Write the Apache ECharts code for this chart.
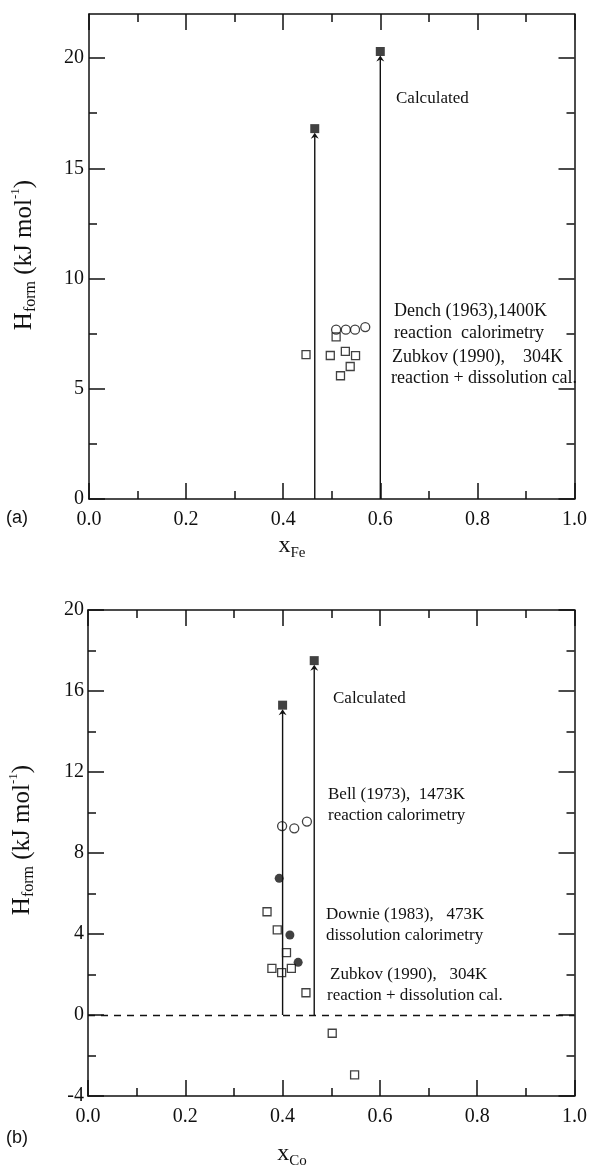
<!DOCTYPE html>
<html>
<head>
<meta charset="utf-8">
<script src="https://cdn.jsdelivr.net/npm/echarts@6/dist/echarts.min.js"></script>
<style>
  html, body { margin: 0; padding: 0; background: #fff; }
  #chart { width: 590px; height: 1168px; }
</style>
</head>
<body>
<div id="chart"></div>
<script>
// (a) x_Fe
const calcFeX = [0.465, 0.6];
const calcFeH = [16.8, 20.3];
const denchX = [0.509, 0.529, 0.548, 0.569];
const denchH = [7.68, 7.68, 7.68, 7.8];
const zubkovFeX = [0.447, 0.497, 0.509, 0.528, 0.549, 0.538, 0.518];
const zubkovFeH = [6.55, 6.51, 7.35, 6.7, 6.5, 6.01, 5.59];

// (b) x_Co
const calcCoX = [0.4, 0.465];
const calcCoH = [15.3, 17.5];
const bellX = [0.399, 0.424, 0.45];
const bellH = [9.33, 9.22, 9.55];
const downieX = [0.393, 0.415, 0.432];
const downieH = [6.75, 3.95, 2.6];
const zubkovCoX = [0.368, 0.389, 0.408, 0.378, 0.398, 0.418, 0.448, 0.502, 0.548];
const zubkovCoH = [5.1, 4.2, 3.08, 2.3, 2.09, 2.3, 1.1, -0.9, -2.96];

// ticks
const yTicksA = [0, 5, 10, 15, 20];
const yMinorA = [2.5, 7.5, 12.5, 17.5];

const serif = "Liberation Serif";
const ink = "#111";
const pairs = (xs, ys) => xs.map((x, i) => [x, ys[i]]);

var myChart = echarts.init(document.getElementById("chart"));

var lineStyle = { color: ink, width: 1.5 };

function xAxis(gridIndex, position, showLabel) {
  return {
    type: "value",
    gridIndex: gridIndex,
    position: position,
    min: 0,
    max: 1,
    interval: 0.2,
    axisLine: { show: true, onZero: false, lineStyle: lineStyle },
    axisTick: { show: true, inside: true, length: 16, lineStyle: lineStyle },
    minorTick: { show: true, splitNumber: 2, length: 8, lineStyle: lineStyle },
    splitLine: { show: false },
    axisLabel: {
      show: showLabel,
      margin: 11,
      formatter: (v) => v.toFixed(1),
      fontFamily: serif,
      fontSize: 20,
      color: ink,
    },
  };
}

// top plot y axes use custom tick lists (the frame stops at 22)
function yAxisA(position, ticks, len, showLine, showLabel) {
  return {
    type: "value",
    gridIndex: 0,
    position: position,
    min: 0,
    max: 22,
    axisLine: { show: showLine, onZero: false, lineStyle: lineStyle },
    axisTick: { show: true, inside: true, length: len, customValues: ticks, lineStyle: lineStyle },
    splitLine: { show: false },
    axisLabel: {
      show: showLabel,
      customValues: ticks,
      margin: 5,
      fontFamily: serif,
      fontSize: 20,
      color: ink,
    },
  };
}

function yAxisB(position, showLabel) {
  return {
    type: "value",
    gridIndex: 1,
    position: position,
    min: -4,
    max: 20,
    interval: 4,
    axisLine: { show: true, onZero: false, lineStyle: lineStyle },
    axisTick: { show: true, inside: true, length: 16, lineStyle: lineStyle },
    minorTick: { show: true, splitNumber: 2, length: 8, lineStyle: lineStyle },
    splitLine: { show: false },
    axisLabel: {
      show: showLabel,
      margin: 4,
      fontFamily: serif,
      fontSize: 20,
      color: ink,
    },
  };
}

// vertical arrow from 0 up to the calculated value, head just under the square
function renderArrow(params, api) {
  var x = api.value(0);
  var h = api.value(1);
  var p0 = api.coord([x, 0]);
  var p1 = api.coord([x, h]);
  var tip = p1[1] + 4;
  return {
    type: "group",
    children: [
      {
        type: "line",
        shape: { x1: p0[0], y1: p0[1], x2: p0[0], y2: tip + 3 },
        style: { stroke: ink, lineWidth: 1.4 },
      },
      {
        type: "polygon",
        shape: {
          points: [
            [p1[0], tip],
            [p1[0] - 4, tip + 6],
            [p1[0], tip + 4],
            [p1[0] + 4, tip + 6],
          ],
        },
        style: { fill: ink },
      },
    ],
  };
}

var openMark = { color: "rgba(0,0,0,0)", borderColor: ink, borderWidth: 1.3 };
var filled = { color: ink };

function text(left, top, str, size) {
  return {
    type: "text",
    left: left,
    top: top,
    style: { text: str, fontFamily: serif, fontSize: size, fill: ink },
  };
}

function yTitle(cx, cy) {
  return {
    type: "text",
    x: cx,
    y: cy,
    rotation: Math.PI / 2,
    style: {
      text: "{m|H}{s|form}{m| (kJ mol}{p|-1}{m|)}",
      align: "center",
      verticalAlign: "middle",
      fill: ink,
      rich: {
        m: { fontFamily: serif, fontSize: 25, lineHeight: 30, verticalAlign: "middle" },
        s: { fontFamily: serif, fontSize: 16, lineHeight: 30, verticalAlign: "bottom" },
        p: { fontFamily: serif, fontSize: 13, lineHeight: 30, verticalAlign: "top" },
      },
    },
  };
}

function xTitle(cx, cy, sub) {
  return {
    type: "text",
    x: cx,
    y: cy,
    style: {
      text: "{m|x}{s|" + sub + "}",
      align: "center",
      verticalAlign: "middle",
      fill: ink,
      rich: {
        m: { fontFamily: serif, fontSize: 24, lineHeight: 30, verticalAlign: "middle" },
        s: { fontFamily: serif, fontSize: 15, lineHeight: 30, verticalAlign: "bottom" },
      },
    },
  };
}

function panelTag(left, top, str) {
  return {
    type: "text",
    left: left,
    top: top,
    style: { text: str, fontFamily: "Liberation Sans", fontSize: 18, fill: ink },
  };
}

myChart.setOption({
  animation: false,
  backgroundColor: "#fff",
  grid: [
    { left: 89, top: 14, width: 488, height: 485 },
    { left: 88, top: 610, width: 487, height: 486 },
  ],
  xAxis: [
    xAxis(0, "bottom", true),
    xAxis(0, "top", false),
    xAxis(1, "bottom", true),
    xAxis(1, "top", false),
  ],
  yAxis: [
    yAxisA("left", yTicksA, 16, true, true),
    yAxisA("left", yMinorA, 8, false, false),
    yAxisA("right", yTicksA, 16, true, false),
    yAxisA("right", yMinorA, 8, false, false),
    yAxisB("left", true),
    yAxisB("right", false),
  ],
  series: [
    // (a)
    {
      type: "custom",
      xAxisIndex: 0,
      yAxisIndex: 0,
      renderItem: renderArrow,
      data: pairs(calcFeX, calcFeH),
    },
    {
      type: "scatter",
      xAxisIndex: 0,
      yAxisIndex: 0,
      symbol: "rect",
      symbolSize: 9,
      itemStyle: filled,
      data: pairs(calcFeX, calcFeH),
    },
    {
      type: "scatter",
      xAxisIndex: 0,
      yAxisIndex: 0,
      symbol: "rect",
      symbolSize: 8,
      itemStyle: openMark,
      data: pairs(zubkovFeX, zubkovFeH),
    },
    {
      type: "scatter",
      xAxisIndex: 0,
      yAxisIndex: 0,
      symbol: "circle",
      symbolSize: 9,
      itemStyle: openMark,
      data: pairs(denchX, denchH),
    },
    // (b)
    {
      type: "custom",
      xAxisIndex: 2,
      yAxisIndex: 4,
      renderItem: renderArrow,
      data: pairs(calcCoX, calcCoH),
    },
    {
      type: "scatter",
      xAxisIndex: 2,
      yAxisIndex: 4,
      symbol: "rect",
      symbolSize: 9,
      itemStyle: filled,
      data: pairs(calcCoX, calcCoH),
    },
    {
      type: "scatter",
      xAxisIndex: 2,
      yAxisIndex: 4,
      symbol: "rect",
      symbolSize: 8,
      itemStyle: openMark,
      data: pairs(zubkovCoX, zubkovCoH),
      markLine: {
        silent: true,
        symbol: "none",
        label: { show: false },
        lineStyle: { color: ink, width: 1.3, type: [7, 6] },
        data: [{ yAxis: 0 }],
      },
    },
    {
      type: "scatter",
      xAxisIndex: 2,
      yAxisIndex: 4,
      symbol: "circle",
      symbolSize: 9,
      itemStyle: openMark,
      data: pairs(bellX, bellH),
    },
    {
      type: "scatter",
      xAxisIndex: 2,
      yAxisIndex: 4,
      symbol: "circle",
      symbolSize: 9,
      itemStyle: filled,
      data: pairs(downieX, downieH),
    },
  ],
  graphic: [
    text(396, 90, "Calculated", 17),
    text(394, 302, "Dench (1963),1400K", 18),
    text(394, 324, "reaction  calorimetry", 18),
    text(392, 348, "Zubkov (1990),    304K", 18),
    text(391, 369, "reaction + dissolution cal.", 18),
    text(333, 690, "Calculated", 17),
    text(328, 786, "Bell (1973),  1473K", 17),
    text(328, 807, "reaction calorimetry", 17),
    text(326, 906, "Downie (1983),   473K", 17),
    text(326, 927, "dissolution calorimetry", 17),
    text(330, 966, "Zubkov (1990),   304K", 17),
    text(327, 987, "reaction + dissolution cal.", 17),
    yTitle(24, 255),
    yTitle(22, 840),
    xTitle(292, 546, "Fe"),
    xTitle(292, 1154, "Co"),
    panelTag(6, 509, "(a)"),
    panelTag(6, 1129, "(b)"),
  ],
});
</script>
</body>
</html>
